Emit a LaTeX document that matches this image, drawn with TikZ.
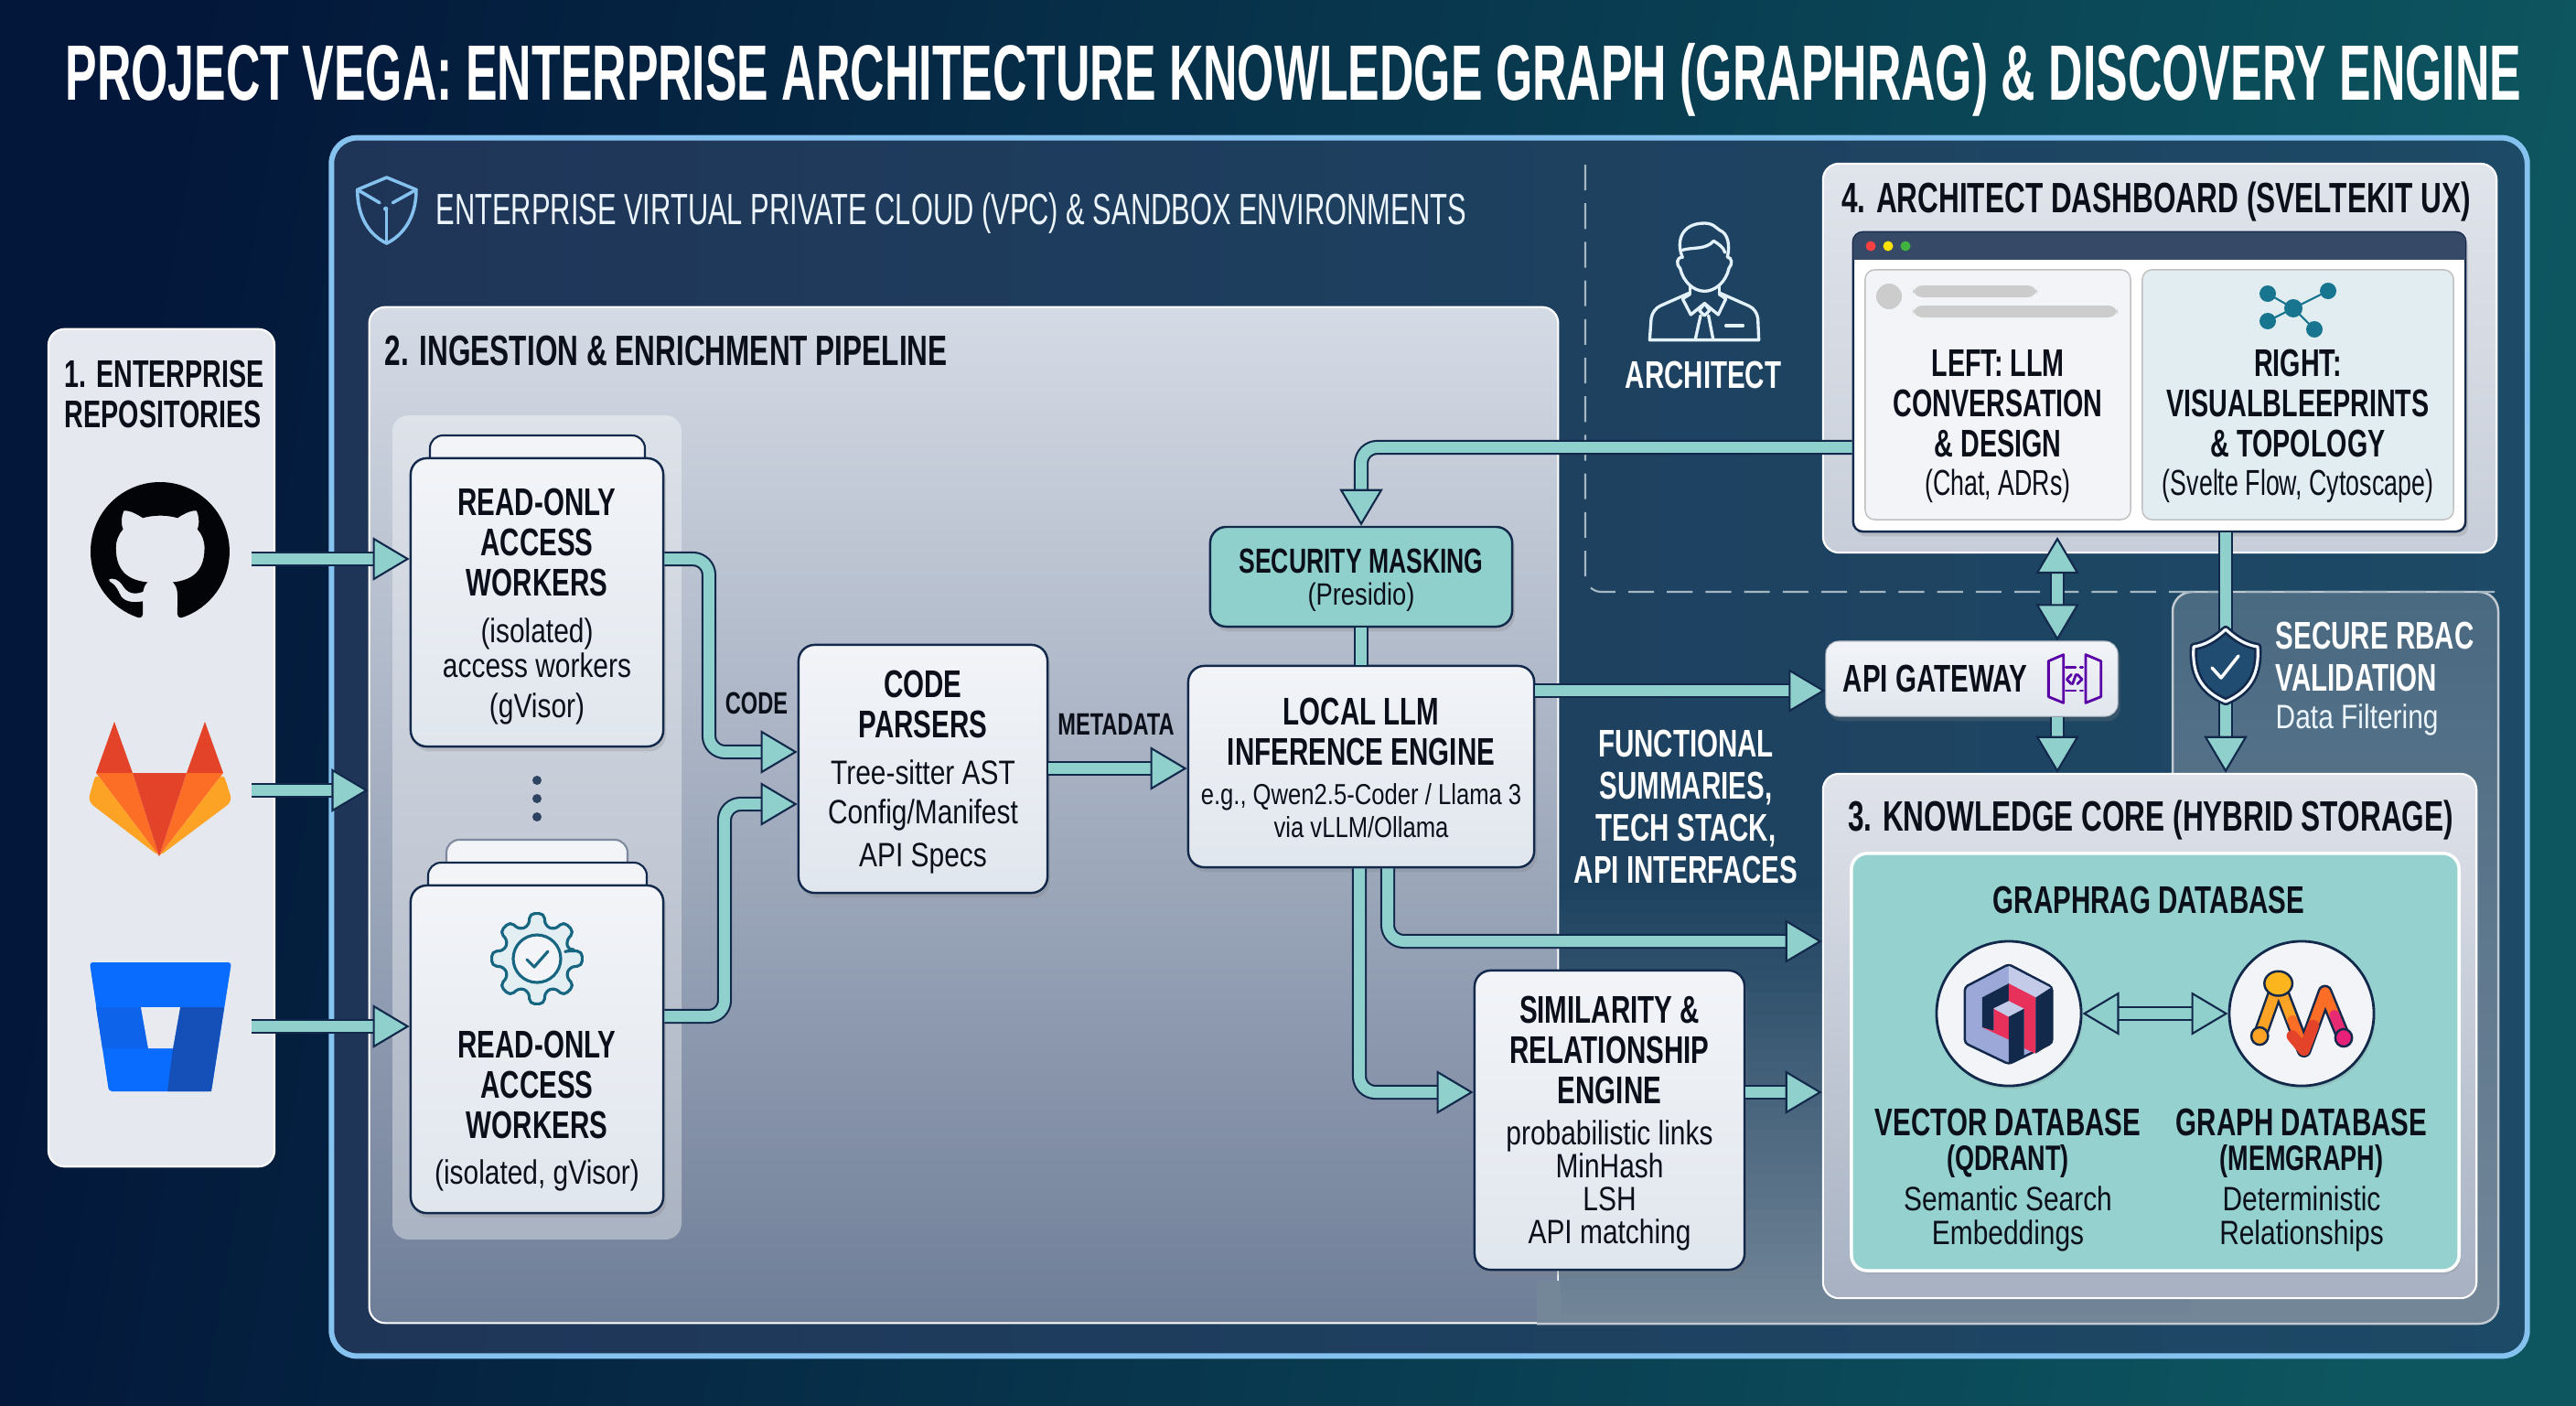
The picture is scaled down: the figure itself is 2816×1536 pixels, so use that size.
\documentclass[tikz,border=0pt]{standalone}
\usepackage{fontspec}
\setmainfont[FakeStretch=0.7]{Liberation Sans}
\newfontfamily\thinfont[FakeStretch=0.81]{Liberation Sans}
\newfontfamily\bannerfam[FakeStretch=0.604]{Liberation Sans}
\newfontfamily\panelfam[FakeStretch=0.68]{Liberation Sans}
\newfontfamily\vpcfam[FakeStretch=0.645]{Liberation Sans}
\usetikzlibrary{arrows.meta,shadows,svg.path}

\definecolor{navy}{HTML}{13294B}
\definecolor{pipeteal}{HTML}{8FD0CC}
\definecolor{inktext}{HTML}{0B0F1A}
\definecolor{boxtop}{HTML}{F2F4F8}
\definecolor{boxbot}{HTML}{E0E6ED}
\definecolor{framesky}{HTML}{85C2F0}
\definecolor{panelwhite}{HTML}{E5E8EE}
\definecolor{glred}{HTML}{E24329}
\definecolor{glorange}{HTML}{FC6D26}
\definecolor{glyellow}{HTML}{FCA326}
\definecolor{bbblue}{HTML}{0A6CFF}
\definecolor{bbdark}{HTML}{1450B8}
\definecolor{qdblue}{HTML}{9BA8D8}
\definecolor{qdpink}{HTML}{E8315A}
\definecolor{iconteal}{HTML}{17758F}
\definecolor{bgleft}{HTML}{03173A}
\definecolor{bgright}{HTML}{0D5660}
\definecolor{vpcleft}{HTML}{1F3558}
\definecolor{vpcright}{HTML}{1D4A66}
\definecolor{ingtop}{HTML}{D5DBE5}
\definecolor{ingbot}{HTML}{6F7E98}
\definecolor{rbactop}{HTML}{4A6A82}
\definecolor{rbacbot}{HTML}{748799}
\definecolor{lowtop}{HTML}{1D4260}
\definecolor{dashtop}{HTML}{E0E4EB}
\definecolor{dashbot}{HTML}{C8CED9}
\definecolor{coretop}{HTML}{E0E3EA}
\definecolor{corebot}{HTML}{A7B1C2}
\definecolor{shieldblue}{HTML}{1F4C70}

\newcommand{\titlefont}{\bannerfam\bfseries\fontsize{24.4}{26}\selectfont}
\newcommand{\panelfont}{\panelfam\bfseries\fontsize{13.2}{14}\selectfont}
\newcommand{\hdfont}{\bfseries\fontsize{12}{12.5}\selectfont}
\newcommand{\dashhead}{\panelfam\bfseries\fontsize{12}{12.5}\selectfont}
\newcommand{\dbfont}{\bfseries\fontsize{11}{12.5}\selectfont}
\newcommand{\txfont}{\thinfont\mdseries\fontsize{10.5}{12}\selectfont}
\newcommand{\smfont}{\thinfont\mdseries\fontsize{9}{10.5}\selectfont}
\newcommand{\dashsub}{\panelfam\mdseries\fontsize{11.2}{12}\selectfont}

\tikzset{
  panel/.style={rounded corners=5pt,draw=white,line width=.6pt,inner sep=0pt},
  box/.style={draw=navy,line width=.7pt,rounded corners=5pt,top color=boxtop,bottom color=boxbot,
    inner sep=0pt,drop shadow={shadow xshift=.8pt,shadow yshift=-1.5pt,opacity=.25}},
  backcard/.style={draw=navy,line width=.6pt,rounded corners=4pt,fill=boxtop},
  caption/.style={align=center,inner sep=0pt,text=inktext},
  whitecaption/.style={align=center,inner sep=0pt,text=white},
  pipetip/.tip={Triangle[length=11.4pt,width=13.4pt,fill=pipeteal,color=navy,line width=.6pt]},
  pipe/.style={draw=navy,line width=.6pt,double=pipeteal,double distance=3.4pt,rounded corners=5pt,-pipetip},
  twopipe/.style={pipe,pipetip-pipetip},
  plainpipe/.style={draw=navy,line width=.6pt,double=pipeteal,double distance=3.4pt},
  roundline/.style={line cap=round,line join=round}
}

\begin{document}
\begin{tikzpicture}[x=0.01cm,y=-0.01cm]
  \useasboundingbox (0,0) rectangle (2816,1536);
  \shade[left color=bgleft,right color=bgright,shading angle=80] (0,0) rectangle (2816,1536);

  \node[whitecaption,font=\titlefont] (title) at (1414,87) {PROJECT VEGA: ENTERPRISE ARCHITECTURE KNOWLEDGE GRAPH (GRAPHRAG) \& DISCOVERY ENGINE};

  % Outer frame
  \node[draw=framesky,line width=1.7pt,rounded corners=8pt,left color=vpcleft,right color=vpcright,minimum width=23.99cm,minimum height=13.31cm,inner sep=0pt] (vpc) at (1562.5,816.5) {};
  \node[whitecaption,anchor=west,text=white!85!framesky,font=\vpcfam\fontsize{13.6}{15}\selectfont] (vpctitle) at (476,233) {ENTERPRISE VIRTUAL PRIVATE CLOUD (VPC) \& SANDBOX ENVIRONMENTS};
  \begin{scope}[shift={(370,170)},scale=.3333,draw=framesky,line width=1pt,roundline]
    \draw (62,112) -- (158,72) -- (255,112) .. controls (255,200) and (215,260) .. (158,288) .. controls (100,260) and (62,200) .. (62,112);
    \draw (62,112) -- (135,155);
    \draw (255,112) -- (178,155);
    \draw (158,175) -- (158,288);
    \fill[framesky] (155,175) circle (8);
  \end{scope}

  % Left column
  \node[panel,fill=panelwhite,minimum width=2.47cm,minimum height=9.15cm] (repos) at (176.5,817.5) {};
  \node[caption,font=\dashhead,anchor=north west,align=left] (repostitle) at (70,393) {1. ENTERPRISE\\REPOSITORIES};
  \begin{scope}[shift={(99,527)},scale=2.7,yscale=-1]
    \fill[black!90!navy] svg "M 8 0 C 3.58 0 0 3.58 0 8 c 0 3.54 2.29 6.53 5.47 7.59 0.4 0.07 0.55 -0.17 0.55 -0.38 0 -0.19 -0.01 -0.82 -0.01 -1.49 -2.01 0.37 -2.53 -0.49 -2.69 -0.94 -0.09 -0.23 -0.48 -0.94 -0.82 -1.13 -0.28 -0.15 -0.68 -0.52 -0.01 -0.53 0.63 -0.01 1.08 0.58 1.23 0.82 0.72 1.21 1.87 0.87 2.33 0.66 0.07 -0.52 0.28 -0.87 0.51 -1.07 -1.78 -0.2 -3.64 -0.89 -3.64 -3.95 0 -0.87 0.31 -1.59 0.82 -2.15 -0.08 -0.2 -0.36 -1.02 0.08 -2.12 0 0 0.67 -0.21 2.2 0.82 0.64 -0.18 1.32 -0.27 2 -0.27 0.68 0 1.36 0.09 2 0.27 1.53 -1.04 2.2 -0.82 2.2 -0.82 0.44 1.1 0.16 1.92 0.08 2.12 0.51 0.56 0.82 1.27 0.82 2.15 0 3.07 -1.87 3.75 -3.65 3.95 0.29 0.25 0.54 0.73 0.54 1.48 0 1.07 -0.01 1.93 -0.01 2.2 0 0.21 0.15 0.46 0.55 0.38 A 8.013 8.013 0 0 0 16 8 c 0 -4.42 -3.58 -8 -8 -8 z";
  \end{scope}
  % gitlab
  \fill[glred] (105,845) -- (125,789) -- (145,845) -- cycle;
  \fill[glred] (204,845) -- (224,789) -- (244,845) -- cycle;
  \fill[glorange] (105,845) -- (145,845) -- (174,936) -- cycle;
  \fill[glorange] (204,845) -- (244,845) -- (174,936) -- cycle;
  \fill[glred] (145,845) -- (204,845) -- (174,936) -- cycle;
  \fill[glyellow,rounded corners=2pt] (105,845) -- (96,876) -- (174,936) -- cycle;
  \fill[glyellow,rounded corners=2pt] (244,845) -- (254,876) -- (174,936) -- cycle;
  % bitbucket
  \fill[bbblue,rounded corners=1pt] (98,1052) -- (253,1052) -- (231,1193) -- (119,1193) -- cycle;
  \fill[bbblue!70!bbdark] (105,1101) -- (154,1101) -- (162,1146) -- (112,1146) -- cycle;
  \fill[bbdark] (197,1101) -- (245,1101) -- (231,1193) -- (183,1193) -- (189,1146) -- cycle;
  \fill[panelwhite!90!white] (154,1101) -- (197,1101) -- (189,1146) -- (162,1146) -- cycle;

  % Ingestion panel
  \node[panel,top color=ingtop,bottom color=ingbot,minimum width=12.99cm,minimum height=11.10cm] (ingest) at (1053.5,891) {};
  \node[caption,anchor=west,font=\panelfont] (ingesttitle) at (420,384) {2. INGESTION \& ENRICHMENT PIPELINE};
  \fill[white,opacity=.38,rounded corners=5pt] (429,454) rectangle (745,1355);

  % RBAC and dashed zone
  \begin{scope}
    \clip[rounded corners=6pt] (2375,647) rectangle (2731,1447);
    \foreach \i in {0,...,39} {
      \pgfmathsetmacro\mixpc{\i*2.5}
      \fill[rbacbot!\mixpc!rbactop] (2375,647+20*\i) rectangle (2731,647+20*\i+22);
    }
  \end{scope}
  \foreach \i in {0,...,38} {
    \pgfmathsetmacro\mixpc{\i*2.6}
    \fill[rbacbot!\mixpc!lowtop] (1705,960+12.5*\i) rectangle (2395,960+12.5*\i+13);
  }
  \fill[rbacbot!97!ingbot] (1680,1400) rectangle (1706,1447);
  \draw[white!55!rbacbot,line width=.7pt,rounded corners=6pt] (2375,900) -- (2375,647) -- (2731,647) -- (2731,1447) -- (1680,1447);
  \draw[white!60!vpcright,line width=.6pt,dash pattern=on 8pt off 4pt,rounded corners=5pt] (1733,180) -- (1733,647) -- (2727,647);
  \node[whitecaption,anchor=north west,align=left,font=\hdfont] (rbactext) at (2487,679) {SECURE RBAC\\[.6pt]VALIDATION};
  \node[whitecaption,anchor=west,text=white!85!framesky,font=\txfont] (rbacsub) at (2487,787) {Data Filtering};

  \draw[backcard] (470,510) -- (470,476) -- (705,476) -- (705,510);
  \node[box,minimum width=2.76cm,minimum height=3.15cm] (worker1) at (587,658.5) {};
  \node[caption,font=\hdfont] (worker1text) at (587,663) {READ-ONLY\\ACCESS\\WORKERS\\[2pt]\txfont (isolated)\\[-1.5pt]\txfont access workers\\\txfont (gVisor)};
  \fill[navy!70!ingbot] (587,853) circle (5) (587,873) circle (5) (587,893) circle (5);
  \draw[backcard,draw=navy!55!white] (488,950) -- (488,918) -- (686,918) -- (686,950);
  \draw[backcard] (468,975) -- (468,943) -- (707,943) -- (707,975);
  \node[box,minimum width=2.76cm,minimum height=3.58cm] (worker2) at (587,1147) {};
  \node[caption,font=\hdfont] (worker2text) at (587,1186) {READ-ONLY\\ACCESS\\WORKERS};
  \node[caption,font=\txfont] (worker2sub) at (587,1285) {(isolated, gVisor)};
  % gear
  \begin{scope}[shift={(587,1048)},line width=.9pt,draw=iconteal!80!navy,roundline]
    \draw[fill=iconteal!12!white,rounded corners=1.5pt] (-14:36)
      \foreach \a in {0,45,...,315} { -- (\a-14:37) -- (\a-9:50) -- (\a+9:50) -- (\a+14:37) } -- cycle;
    \draw[fill=boxtop] (0,0) circle (26);
    \draw (-11,1) -- (-3,9) -- (12,-8);
  \end{scope}

  \node[box,minimum width=2.72cm,minimum height=2.71cm] (parsers) at (1009,840.5) {};
  \node[caption,font=\hdfont] (parserstext) at (1009,844) {CODE\\PARSERS\\[2pt]\txfont Tree-sitter AST\\[-.2pt]\txfont Config/Manifest\\[.8pt]\txfont API Specs};
  \node[box,top color=pipeteal,bottom color=pipeteal,minimum width=3.30cm,minimum height=1.09cm] (security) at (1488,630.5) {};
  \node[caption,font=\bfseries\fontsize{10.8}{11.5}\selectfont] (securitytext) at (1488,634) {SECURITY MASKING\\[-1.5pt]\thinfont\mdseries\fontsize{9.6}{11}\selectfont (Presidio)};
  \node[box,minimum width=3.78cm,minimum height=2.20cm] (llm) at (1488,838) {};
  \node[caption,font=\hdfont] (llmtext) at (1488,839) {LOCAL LLM\\INFERENCE ENGINE\\\smfont e.g., Qwen2.5-Coder / Llama 3\\[-2.5pt]\smfont via vLLM/Ollama};
  \node[caption,font=\bfseries\fontsize{9.6}{10}\selectfont] (codelabel) at (827,769) {CODE};
  \node[caption,font=\bfseries\fontsize{9.6}{10}\selectfont] (metalabel) at (1220,792) {METADATA};
  \node[whitecaption,font=\hdfont] (summaries) at (1843,882) {FUNCTIONAL\\[.6pt]SUMMARIES,\\[.6pt]TECH STACK,\\[.6pt]API INTERFACES};
  \node[box,minimum width=2.95cm,minimum height=3.27cm] (simil) at (1759.5,1224.5) {};
  \node[caption,font=\hdfont] (similtext) at (1759.5,1228) {SIMILARITY \&\\RELATIONSHIP\\ENGINE\\[.5pt]\txfont probabilistic links\\[-2.3pt]\txfont MinHash\\[-2.3pt]\txfont LSH\\[-2.3pt]\txfont API matching};

  % Architect
  \begin{scope}[shift={(1760,220)},scale=.3333,draw=white!78!framesky,line width=.95pt,roundline]
    \draw (235,183) .. controls (220,185) and (215,205) .. (230,220) .. controls (240,265) and (275,295) .. (310,295) .. controls (345,295) and (380,265) .. (390,220) .. controls (403,205) and (400,185) .. (385,183);
    \draw (238,185) .. controls (215,130) and (235,72) .. (310,72) .. controls (340,72) and (350,90) .. (360,95) .. controls (385,105) and (395,140) .. (385,183);
    \draw (238,160) .. controls (270,150) and (315,160) .. (340,130) .. controls (355,140) and (372,150) .. (377,168);
    \draw (262,278) -- (262,305) (358,278) -- (358,305);
    \draw (262,300) -- (165,343) .. controls (150,350) and (138,365) .. (135,385) -- (130,455) -- (488,455) -- (485,385) .. controls (483,365) and (470,350) .. (455,343) -- (358,300);
    \draw (262,305) -- (238,320) -- (265,372) -- (310,335) -- (355,372) -- (380,320) -- (358,305);
    \draw (310,335) -- (293,358) -- (310,375) -- (327,358) -- cycle;
    \draw (297,375) -- (280,452) (323,375) -- (338,452);
    \draw (380,408) -- (436,408);
  \end{scope}
  \node[whitecaption,font=\hdfont] (architect) at (1862,410) {ARCHITECT};

  % Dashboard
  \node[panel,top color=dashtop,bottom color=dashbot,minimum width=7.36cm,minimum height=4.25cm] (dash) at (2361,391.5) {};
  \node[caption,font=\panelfont] (dashtitle) at (2357,220) {4. ARCHITECT DASHBOARD (SVELTEKIT UX)};
  \node[box,top color=white,bottom color=white,rounded corners=3pt,minimum width=6.69cm,minimum height=3.27cm] (window) at (2360.5,417.5) {};
  \fill[navy!85!white,rounded corners=3pt] (2026,254) rectangle (2695,270);
  \fill[navy!85!white] (2026,262) rectangle (2695,284);
  \fill[red!75!white] (2045,269) circle (5.5);
  \fill[yellow!85!orange] (2064,269) circle (5.5);
  \fill[green!60!black!75!white] (2083,269) circle (5.5);
  \node[draw=black!25,line width=.4pt,fill=boxtop,rounded corners=3pt,minimum width=2.90cm,minimum height=2.73cm,inner sep=0pt] (leftpane) at (2184,431.5) {};
  \node[draw=black!25,line width=.4pt,fill=iconteal!13!white,rounded corners=3pt,minimum width=3.40cm,minimum height=2.73cm,inner sep=0pt] (rightpane) at (2512,431.5) {};
  \fill[black!20] (2065,324) circle (14);
  \fill[black!20,rounded corners=3pt] (2091,312) rectangle (2227,325) (2091,334) rectangle (2315,347);
  \draw[iconteal,line width=.6pt] (2479,321) -- (2507,337) -- (2545,318) (2479,351) -- (2507,337) -- (2530,360);
  \fill[iconteal] (2507,337) circle (10) (2479,321) circle (9) (2545,318) circle (9) (2479,351) circle (9) (2530,360) circle (9);
  \node[caption,font=\dashhead] (lefttext) at (2184,441) {LEFT: LLM\\CONVERSATION\\\& DESIGN};
  \node[caption,font=\dashsub] (leftsub) at (2184,531) {(Chat, ADRs)};
  \node[caption,font=\dashhead] (righttext) at (2512,441) {RIGHT:\\VISUALBLEEPRINTS\\\& TOPOLOGY};
  \node[caption,font=\dashsub] (rightsub) at (2512,531) {(Svelte Flow, Cytoscape)};

  % Gateway
  \node[box,draw=white!70!navy,line width=.3pt,rounded corners=4pt,minimum width=3.19cm,minimum height=.82cm] (gateway) at (2155.5,742) {};
  \node[caption,anchor=west,font=\hdfont] (gatewaytext) at (2014,742) {API GATEWAY};
  \begin{scope}[shift={(2225,700)},scale=.3333,draw=violet!70!blue,line width=.8pt,roundline]
    \draw (43,68) -- (92,47) -- (92,205) -- (43,185) -- cycle;
    \draw (165,47) -- (215,68) -- (215,185) -- (165,205) -- cycle;
    \draw[dash pattern=on 3pt off 1.5pt on 1pt off 1.5pt] (100,88) -- (155,88) (100,165) -- (155,165);
    \draw (118,112) -- (103,128) -- (118,143) (138,112) -- (153,128) -- (138,143) (133,112) -- (122,143);
  \end{scope}

  % Knowledge core
  \node[panel,top color=coretop,bottom color=corebot,minimum width=7.14cm,minimum height=5.73cm] (core) at (2350,1132.5) {};
  \node[caption,font=\panelfont] (coretitle) at (2351,896) {3. KNOWLEDGE CORE (HYBRID STORAGE)};
  \node[draw=white,line width=1pt,fill=pipeteal!95!white,rounded corners=5pt,minimum width=6.64cm,minimum height=4.56cm,inner sep=0pt,drop shadow={shadow xshift=.5pt,shadow yshift=-1pt,opacity=.2}] (graphrag) at (2356,1161) {};
  \node[caption,font=\hdfont] (graphragtitle) at (2349,984) {GRAPHRAG DATABASE};
  \node[circle,draw=navy,line width=.8pt,fill=boxtop,minimum size=1.58cm,inner sep=0pt,drop shadow={shadow xshift=.5pt,shadow yshift=-1pt,opacity=.2}] (vector) at (2196,1108) {};
  \node[circle,draw=navy,line width=.8pt,fill=boxtop,minimum size=1.58cm,inner sep=0pt,drop shadow={shadow xshift=.5pt,shadow yshift=-1pt,opacity=.2}] (graphdb) at (2516,1108) {};
  \begin{scope}[shift={(1950,830)},xscale=.51,yscale=.383]
    % qdrant
    \fill[qdblue,draw=navy,line width=.7pt,rounded corners=1pt] (482,585) -- (575,650) -- (575,810) -- (482,870) -- (388,810) -- (388,650) -- cycle;
    \fill[qdblue!60!white] (482,590) -- (572,652) -- (540,680) -- (482,640) -- cycle;
    \fill[navy] (425,680) -- (482,640) -- (482,690) -- (450,710) -- (450,775) -- (425,765) -- cycle;
    \fill[qdpink] (482,640) -- (540,680) -- (540,840) -- (515,825) -- (515,720) -- (482,690) -- cycle;
    \fill[qdpink] (450,710) -- (482,735) -- (482,800) -- (425,765) -- (450,775) -- cycle;
    \fill[qdblue!60!white] (482,690) -- (515,712) -- (482,735) -- (450,712) -- cycle;
    \fill[navy] (482,735) -- (515,712) -- (515,845) -- (482,870) -- cycle;
    \fill[navy] (540,680) -- (575,650) -- (575,810) -- (540,840) -- cycle;
    % memgraph
    \draw[navy,line width=4.6pt,roundline] (1060,640) -- (1020,790) (1060,640) -- (1115,830) -- (1160,665) -- (1200,795);
    \draw[glyellow,line width=3.2pt,roundline] (1060,640) -- (1020,790);
    \draw[glyellow,line width=3.2pt,roundline] (1060,640) -- (1090,745);
    \draw[glorange,line width=3.2pt,roundline] (1090,745) -- (1115,830) -- (1160,665) -- (1180,730);
    \draw[glred,line width=3.6pt,roundline] (1090,790) -- (1115,830) -- (1135,760);
    \draw[magenta!60!glred,line width=3.2pt,roundline] (1180,730) -- (1200,795);
    \filldraw[fill=glyellow!80!yellow,draw=navy,line width=.7pt] (1060,640) ellipse (30 and 35);
    \filldraw[fill=glyellow,draw=navy,line width=.7pt] (1020,790) ellipse (18 and 25);
    \filldraw[fill=magenta!70!glred,draw=navy,line width=.7pt] (1200,795) ellipse (18 and 25);
  \end{scope}
  \node[caption,font=\hdfont] (vectortext) at (2195,1250) {VECTOR DATABASE\\[-1.6pt]\dbfont (QDRANT)};
  \node[caption,font=\txfont] (vectorsub) at (2195,1332.5) {Semantic Search\\[-1.4pt]\txfont Embeddings};
  \node[caption,font=\hdfont] (graphtext) at (2516,1250) {GRAPH DATABASE\\[-1.6pt]\dbfont (MEMGRAPH)};
  \node[caption,font=\txfont] (graphsub) at (2516,1332.5) {Deterministic\\[-1.4pt]\txfont Relationships};

  % Connectors
  \coordinate (ghport) at (275,611);
  \coordinate (glport) at (275,864);
  \coordinate (bbport) at (275,1122);
  \coordinate (apitop) at (2249,587);
  \draw[pipe] (ghport) -- (ghport -| worker1.west);
  \draw[pipe] (glport) -- (glport -| ingest.west);
  \draw[pipe] (bbport) -- (bbport -| worker2.west);
  \draw[pipe] (worker1.east |- 0,611) -- (775,611) -- (775,822) -- (parsers.west |- 0,822);
  \draw[pipe] (worker2.east |- 0,1111) -- (792,1111) -- (792,879) -- (parsers.west |- 0,879);
  \draw[pipe] (parsers.east |- 0,840) -- (llm.west |- 0,840);
  \draw[pipe] (window.west |- 0,489) -- (security.north |- 0,489) -- (security.north);
  \draw[plainpipe] (security.south) -- (llm.north);
  \draw[pipe] (llm.east |- 0,755) -- (gateway.west |- 0,755);
  \draw[pipe] (llm.south -| 1517,0) -- (1517,1029) -- (core.west |- 0,1029);
  \draw[pipe] (llm.south -| 1486,0) -- (1486,1194) -- (simil.west |- 0,1194);
  \draw[pipe] (simil.east |- 0,1194) -- (core.west |- 0,1194);
  \draw[twopipe] (apitop) -- (apitop |- gateway.north);
  \draw[pipe] (gateway.south -| apitop) -- (core.north -| apitop);
  \draw[pipe] (window.south -| 2433,0) -- (core.north -| 2433,0);
  \draw[twopipe] (vector.east) -- (graphdb.west);

  % Shield
  \draw[fill=shieldblue,draw=navy,line width=2.4pt,line join=round] (2433,688) .. controls (2420,700) and (2410,705) .. (2398,707) .. controls (2396,735) and (2405,755) .. (2433,767) .. controls (2461,755) and (2470,735) .. (2468,707) .. controls (2456,705) and (2446,700) .. (2433,688) -- cycle;
  \draw[draw=white!90!framesky,line width=.9pt,line join=round] (2433,688) .. controls (2420,700) and (2410,705) .. (2398,707) .. controls (2396,735) and (2405,755) .. (2433,767) .. controls (2461,755) and (2470,735) .. (2468,707) .. controls (2456,705) and (2446,700) .. (2433,688) -- cycle;
  \draw[white,line width=1pt,roundline] (2418,730) -- (2428,741) -- (2447,717);
\end{tikzpicture}
\end{document}
